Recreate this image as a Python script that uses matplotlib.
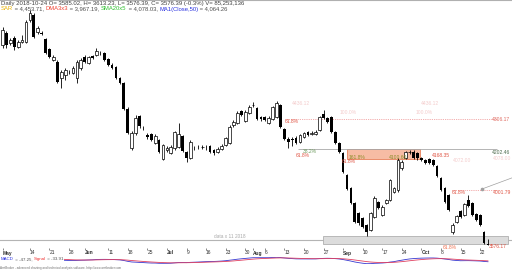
import numpy as np
import pandas as pd
import matplotlib
matplotlib.use('Agg')
import matplotlib.pyplot as plt
from matplotlib.patches import Rectangle

plt.rcParams['font.family'] = ['Liberation Sans', 'DejaVu Sans']

# daily bars, 2018-05-03 .. 2018-10-24
opens = [4739, 4809, 4751, 4780, 4727, 4756, 4756, 4884, 4913, 4814, 4809, 4774, 4716, 4652, 4640,
         4548, 4565, 4582, 4577, 4548, 4606, 4669, 4635, 4675, 4681, 4693, 4693, 4658, 4623, 4611,
         4548, 4519, 4368, 4142, 4229, 4327, 4258, 4217, 4223, 4171, 4188, 4078, 4130, 4113, 4142,
         4147, 4211, 4118, 4084, 4142, 4147, 4147, 4147, 4153, 4130, 4118, 4136, 4159, 4171, 4275,
         4287, 4356, 4298, 4345, 4391, 4374, 4321, 4321, 4287, 4310, 4321, 4391, 4252, 4194, 4194,
         4200, 4176, 4205, 4234, 4223, 4223, 4246, 4339, 4316, 4321, 4234, 4171, 4113, 3985, 3910,
         3823, 3765, 3736, 3695, 3666, 3741, 3828, 3753, 3823, 3840, 3886, 3898, 4026, 4084, 4118,
         4118, 4113, 4084, 4072, 4078, 4072, 4037, 3968, 3910, 3869, 3654, 3712, 3776, 3753, 3840,
         3823, 3759, 3753, 3654, 3585.02]
highs = [4843, 4820, 4780, 4791, 4768, 4797, 4884, 4942, 4925, 4849, 4820, 4780, 4722, 4681, 4652,
         4594, 4606, 4594, 4617, 4652, 4664, 4681, 4675, 4681, 4722, 4704, 4698, 4664, 4635, 4617,
         4553, 4524, 4379, 4240, 4333, 4333, 4269, 4229, 4229, 4223, 4194, 4165, 4153, 4159, 4240,
         4287, 4217, 4124, 4188, 4153, 4159, 4159, 4159, 4159, 4136, 4147, 4165, 4205, 4275, 4304,
         4356, 4362, 4362, 4391, 4408, 4379, 4327, 4327, 4327, 4385, 4414, 4397, 4258, 4205, 4205,
         4211, 4223, 4234, 4240, 4240, 4246, 4327, 4362, 4321, 4327, 4240, 4176, 4118, 3991, 3915,
         3828, 3770, 3741, 3701, 3770, 3863, 3834, 3811, 3846, 3962, 3915, 4084, 4072, 4124, 4130,
         4130, 4118, 4089, 4078, 4084, 4078, 4043, 3973, 3915, 3875, 3707, 3753, 3782, 3823, 3869,
         3828, 3765, 3759, 3660, 3613.23]
lows = [4722, 4722, 4739, 4710, 4722, 4751, 4751, 4872, 4780, 4803, 4797, 4687, 4664, 4646, 4519,
        4490, 4536, 4571, 4571, 4519, 4594, 4635, 4629, 4658, 4675, 4681, 4646, 4617, 4600, 4542,
        4513, 4362, 4223, 4130, 4217, 4258, 4246, 4194, 4182, 4165, 4113, 4072, 4118, 4107, 4130,
        4142, 4118, 4060, 4078, 4130, 4136, 4136, 4130, 4113, 4101, 4113, 4130, 4153, 4165, 4263,
        4281, 4327, 4292, 4339, 4379, 4304, 4298, 4298, 4281, 4304, 4316, 4258, 4188, 4142, 4153,
        4165, 4171, 4200, 4211, 4217, 4217, 4240, 4310, 4287, 4229, 4165, 4113, 3997, 3898, 3817,
        3707, 3695, 3678, 3631, 3660, 3736, 3788, 3747, 3817, 3834, 3881, 3886, 4014, 4078, 4107,
        4078, 4072, 4066, 4049, 4049, 4037, 3973, 3892, 3823, 3776, 3643, 3707, 3736, 3747, 3799,
        3747, 3718, 3689, 3584, 3576.39]
closes = [4826, 4739, 4768, 4727, 4756, 4768, 4872, 4925, 4785, 4838, 4803, 4693, 4669, 4669, 4524,
          4582, 4594, 4580, 4606, 4640, 4652, 4640, 4669, 4664, 4704, 4691, 4652, 4623, 4606, 4548,
          4519, 4368, 4229, 4229, 4316, 4269, 4256, 4205, 4188, 4211, 4118, 4159, 4142, 4147, 4234,
          4223, 4124, 4084, 4176, 4140, 4145, 4149, 4146, 4118, 4113, 4136, 4153, 4200, 4263, 4292,
          4345, 4333, 4350, 4379, 4393, 4310, 4310, 4304, 4316, 4379, 4403, 4263, 4194, 4176, 4188,
          4171, 4217, 4229, 4217, 4229, 4234, 4321, 4316, 4292, 4234, 4171, 4118, 4002, 3904, 3823,
          3712, 3707, 3683, 3654, 3765, 3852, 3794, 3799, 3840, 3956, 3910, 4072, 4060, 4118, 4120,
          4084, 4084, 4072, 4055, 4055, 4043, 3979, 3898, 3828, 3782, 3695, 3747, 3741, 3817, 3805,
          3753, 3724, 3695, 3588, 3576.39]

# fibonacci / drawing objects (price level, from bar, to bar)
fib_dotted = [(4308, 72.2, 126.3), (3898, 114.8, 126.3)]
fib_solid = [(4133, 75.5, 126.3)]
support_level = 3608
zone_gray = (81.9, 129.1, 3585, 3631)
zone_salmon = (88.0, 106.6, 4078, 4136)
trend_x = [122.5, 130.1]
trend_y = [3904, 3968]

# chart labels: text, bar, price, colour
labels = [
    ('61.8%', 72.2, 4295, '#e05545'), ('4306.17', 125.0, 4307, '#e06a60'),
    ('38.2%', 76.8, 4121, '#6c9a5c'), ('61.8%', 75.0, 4098, '#e05545'),
    ('161.8%', 88.5, 4089, '#8c8c28'), ('4100.60', 98.7, 4089, '#8c8c28'),
    ('61.8%', 86.7, 4066, '#e05545'), ('4168.35', 109.7, 4101, '#e05545'),
    ('4202.46', 125.0, 4118, '#4c6a4c'), ('61.8%', 114.8, 3886, '#e05545'),
    ('4001.79', 125.3, 3881, '#e05545'), ('61.8%', 112.5, 3567, '#f07050'),
    ('3576.17', 124.3, 3573, '#e05545'),
]
faint_labels = [
    ('4436.12', 74.0, 4397), ('4436.12', 106.9, 4397), ('100.0%', 86.2, 4345),
    ('100.0%', 105.4, 4345), ('4072.00', 115.0, 4072), ('4078.00', 125.3, 4078),
]

header1 = 'Daily 2018-10-24 O= 3585.02, H= 3613.23, L= 3576.39, C= 3576.39 (-0.3%) V= 85,253,136'
header2 = [('SAR', '#e8b000'), (' = 4,453.71, ', '#505050'), ('DMA3x3', '#f04030'),
           (' = 3,967.19, ', '#505050'), ('SMA20x5', '#30c030'), (' = 4,078.03, ', '#505050'),
           ('MA1(Close,50)', '#2830e0'), (' = 4,064.26', '#505050')]
macd_title = [('MACD', '#2830e0'), (' = -47.25, ', '#505050'), ('Signal', '#f03030'),
              (' = -33.91', '#505050')]

W, H = 512, 270
fig = plt.figure(figsize=(W / 100, H / 100), dpi=100)
ax = fig.add_axes([0, 22 / H, 1, 248 / H])
n = len(closes)
x = np.arange(n)
o, h, l, c = map(np.array, (opens, highs, lows, closes))

ax.vlines(x, l, h, color='black', lw=0.6, zorder=3)
up = c >= o
lo = np.minimum(o, c)
ht = np.maximum(np.abs(c - o), 2.5)
ax.bar(x[up], ht[up], 0.7, bottom=lo[up], facecolor='white', edgecolor='black', lw=0.5, zorder=4)
ax.bar(x[~up], ht[~up], 0.7, bottom=lo[~up], color='black', lw=0, zorder=4)

# zones and levels
ax.add_patch(Rectangle((zone_gray[0], zone_gray[2]), zone_gray[1] - zone_gray[0],
                       zone_gray[3] - zone_gray[2], facecolor='#dcdcdc', edgecolor='#b0b0b0', lw=0.6, zorder=1))
ax.add_patch(Rectangle((zone_salmon[0], zone_salmon[2]), zone_salmon[1] - zone_salmon[0],
                       zone_salmon[3] - zone_salmon[2], facecolor='#f7bca4', edgecolor='#e8805a', lw=0.6, zorder=1))
ax.axhline(support_level, color='#b4b4b4', lw=0.8, zorder=0.5)
for lvl, a, b in fib_dotted:
    ax.hlines(lvl, a, b, color='#ee9090', lw=0.6, linestyles=(0, (1, 1.2)), zorder=2)
for lvl, a, b in fib_solid:
    ax.hlines(lvl, a, b, color='#a8a8a8', lw=0.6, zorder=2)
ax.plot(trend_x, trend_y, color='#a0a0a0', lw=0.5, zorder=2)
ax.plot(trend_x[:1], trend_y[:1], 'o', color='#a0a0a0', ms=1.6, zorder=2)

for txt, bx, py, col in labels:
    ax.text(bx, py, txt, color=col, fontsize=3.6, ha='left', va='center', zorder=5)
for txt, bx, py in faint_labels:
    ax.text(bx, py, txt, color='#f4cccc', fontsize=3.6, ha='left', va='center', zorder=0.8)
ax.text(58, 3628, 'data x 11 2018', color='#a8a8a8', fontsize=3.4, ha='center', va='center')

ax.set_xlim(-0.639, 130.14)
ax.set_ylim(5000 - 5.8 * 248, 5000)
ax.set_yticks([])
for s in ax.spines.values():
    s.set_visible(False)
ax.spines['top'].set_visible(True)
ax.spines['top'].set_color('#b0b0b0')

# date axis: month name on first bar of month, Mondays otherwise
dates = pd.bdate_range(end='2018-10-24', periods=n)
tick_pos, tick_lab, last = [], [], -10
for i, d in enumerate(dates):
    if i == 0 or d.month != dates[i - 1].month:
        tick_pos.append(i); tick_lab.append(d.strftime('%b')); last = i
    elif d.weekday() == 0 and i - last >= 3:
        tick_pos.append(i); tick_lab.append(str(d.day)); last = i
ax.set_xticks(tick_pos)
ax.set_xticklabels(tick_lab)
ax.tick_params(axis='x', length=1.5, width=0.4, pad=0.3, labelsize=3.5, colors='#303030')
for t in ax.get_xticklabels():
    t.set_ha('left')
    if not t.get_text().isdigit():
        t.set_fontweight('bold')

# MACD pane
ema12 = pd.Series(closes).ewm(span=12, adjust=False).mean()
ema26 = pd.Series(closes).ewm(span=26, adjust=False).mean()
macd = ema12 - ema26
signal = macd.ewm(span=9, adjust=False).mean()
mx = fig.add_axes([0, 6 / H, 1, 7 / H])
mx.plot(x, macd, color='#3838d0', lw=0.6)
mx.plot(x, signal, color='#e04060', lw=0.6)
mx.set_xlim(-0.639, 130.14)
mx.axis('off')

r = fig.canvas.get_renderer()


def colored_line(y_px, pieces, size, box=False):
    xp = 1
    for txt, col in pieces:
        t = fig.text(xp / W, 1 - y_px / H, txt, color=col, fontsize=size, ha='left', va='center')
        if box:
            t.set_bbox(dict(facecolor='white', edgecolor='none', pad=0.4))
        xp += t.get_window_extent(renderer=r).width


fig.text(1 / W, 1 - 3.5 / H, header1, color='#404040', fontsize=4.3, ha='left', va='center')
colored_line(9, header2, 4.2)
colored_line(259.3, macd_title, 3.2, box=True)
fig.text(0.5 / W, 1 - 267.5 / H,
         'AmiBroker - advanced charting and technical analysis software. http://www.amibroker.com',
         color='#707070', fontsize=2.2, ha='left', va='center')

fig.savefig('out.png', dpi=100)
